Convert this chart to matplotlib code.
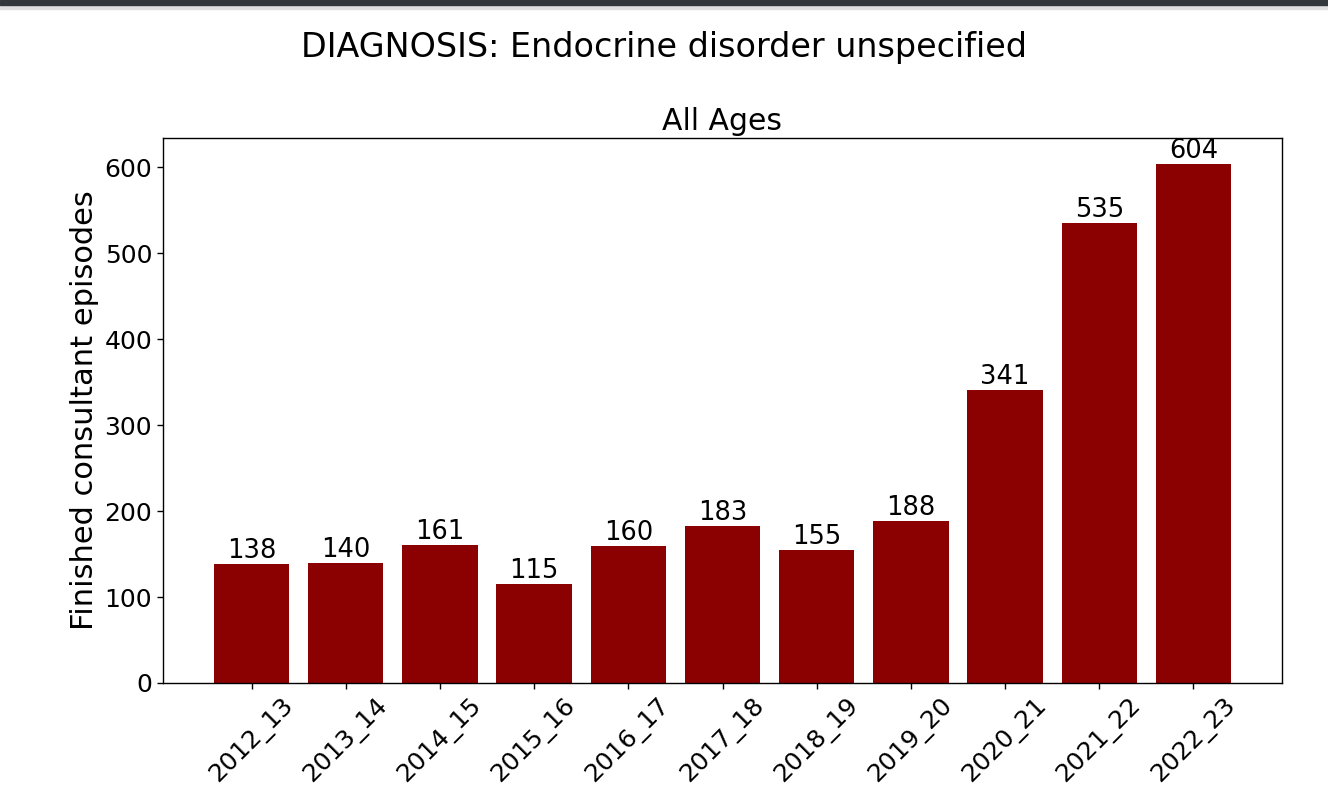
import matplotlib
matplotlib.use('Agg')
import matplotlib.pyplot as plt
from matplotlib.patches import Rectangle

years = ['2012_13', '2013_14', '2014_15', '2015_16', '2016_17', '2017_18',
         '2018_19', '2019_20', '2020_21', '2021_22', '2022_23']
episodes = [138, 140, 161, 115, 160, 183, 155, 188, 341, 535, 604]

fig = plt.figure(figsize=(13.28, 8), dpi=100)
ax = fig.add_axes([163 / 1328, 1 - 683 / 800, (1282 - 163) / 1328, (683 - 138) / 800])

bars = ax.bar(years, episodes, width=0.8, color='darkred')
ax.bar_label(bars, fontsize=18.5)

ax.set_title('All Ages', fontsize=21.5)
ax.set_ylabel('Finished consultant episodes', fontsize=22)
ax.tick_params(axis='both', labelsize=18, length=4.3, width=1.0)
for s in ax.spines.values():
    s.set_linewidth(1.0)
plt.setp(ax.get_xticklabels(), rotation=45)

fig.suptitle('DIAGNOSIS: Endocrine disorder unspecified', fontsize=24, y=1 - 47 / 800, va='center')

# dark strip along the top edge of the screenshot
fig.add_artist(Rectangle((0, 1 - 5 / 800), 1, 5 / 800, transform=fig.transFigure,
                         color='#33383d', zorder=10))
fig.add_artist(Rectangle((0, 1 - 9 / 800), 1, 4 / 800, transform=fig.transFigure,
                         color='#e0e0e0', zorder=9))

fig.savefig('out.png', dpi=100)
